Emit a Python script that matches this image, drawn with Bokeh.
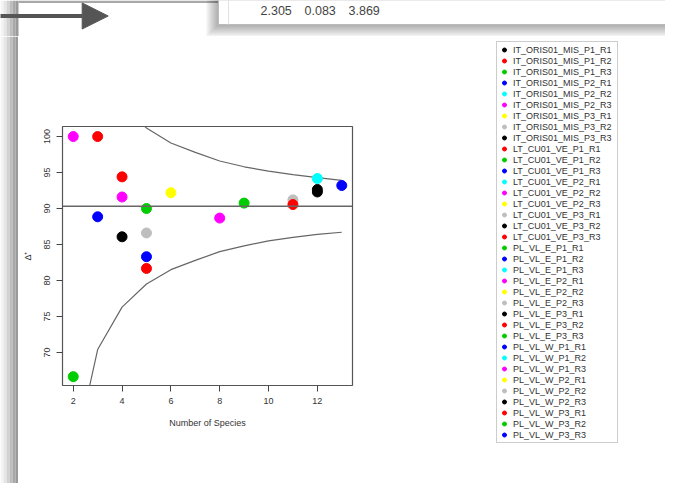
from bokeh.plotting import figure
from bokeh.layouts import column, row
from bokeh.models import (Legend, LegendItem, Label, Arrow, NormalHead,
                          FixedTicker, Span)
from bokeh.embed import file_html
from bokeh.resources import INLINE

# ---------------- data ----------------
samples = [
    "IT_ORIS01_MIS_P1_R1", "IT_ORIS01_MIS_P1_R2", "IT_ORIS01_MIS_P1_R3",
    "IT_ORIS01_MIS_P2_R1", "IT_ORIS01_MIS_P2_R2", "IT_ORIS01_MIS_P2_R3",
    "IT_ORIS01_MIS_P3_R1", "IT_ORIS01_MIS_P3_R2", "IT_ORIS01_MIS_P3_R3",
    "LT_CU01_VE_P1_R1", "LT_CU01_VE_P1_R2", "LT_CU01_VE_P1_R3",
    "LT_CU01_VE_P2_R1", "LT_CU01_VE_P2_R2", "LT_CU01_VE_P2_R3",
    "LT_CU01_VE_P3_R1", "LT_CU01_VE_P3_R2", "LT_CU01_VE_P3_R3",
    "PL_VL_E_P1_R1", "PL_VL_E_P1_R2", "PL_VL_E_P1_R3",
    "PL_VL_E_P2_R1", "PL_VL_E_P2_R2", "PL_VL_E_P2_R3",
    "PL_VL_E_P3_R1", "PL_VL_E_P3_R2", "PL_VL_E_P3_R3",
    "PL_VL_W_P1_R1", "PL_VL_W_P1_R2", "PL_VL_W_P1_R3",
    "PL_VL_W_P2_R1", "PL_VL_W_P2_R2", "PL_VL_W_P2_R3",
    "PL_VL_W_P3_R1", "PL_VL_W_P3_R2", "PL_VL_W_P3_R3",
]
palette = ["#000000", "#FF0000", "#00CD00", "#0000FF",
           "#00FFFF", "#FF00FF", "#FFFF00", "#BEBEBE"]

# observed points: sample index, number of species, Delta+
pt_sample = [5, 1, 9, 13, 3, 0, 2, 7, 11, 17, 6, 21, 18, 23, 25, 28, 24, 32, 27, 10]
pt_species = [2, 3, 4, 4, 3, 4, 5, 5, 5, 5, 6, 8, 9, 11, 11, 12, 12, 12, 13, 2]
pt_delta = [100.0, 100.0, 94.4, 91.6, 88.85, 86.07, 90.0, 86.6, 83.3, 81.67,
            92.2, 88.67, 90.75, 91.2, 90.55, 94.17, 92.64, 92.3, 93.2, 66.63]

# funnel (expected limits)
curve_species = [2, 3, 4, 5, 6, 7, 8, 9, 10, 11, 12, 13]
upper_limit = [125.6, 110.2, 104.3, 101.2, 99.1, 97.8, 96.6, 95.8, 95.2, 94.7, 94.3, 93.9]
lower_limit = [55.0, 70.4, 76.3, 79.5, 81.5, 82.8, 84.0, 84.8, 85.5, 86.0, 86.4, 86.7]
mean_delta = 90.3

x_ticks = [2, 4, 6, 8, 10, 12]
y_ticks = [70, 75, 80, 85, 90, 95, 100]
popup_values = ["2.305", "0.083", "3.869"]

FONT = "Liberation Sans"
NAN = float("nan")
W, H = 665, 483
HDR_H, STRIP_W = 36, 18
MAIN_W = 354
LEG_W = W - STRIP_W - MAIN_W
BODY_H = H - HDR_H
strip_cols = ["#f4f4f4", "#e6e6e6", "#d2d2d2", "#bdbdbd", "#a8a8a8", "#9a9a9a"]


def blank(width, height, xr, yr):
    f = figure(width=width, height=height, x_range=xr, y_range=yr,
               min_border=0, x_axis_location=None, y_axis_location=None,
               toolbar_location=None, output_backend="svg")
    f.outline_line_color = None
    f.grid.visible = False
    f.background_fill_color = "white"
    f.border_fill_color = "white"
    f.frame_align = False
    return f


# ---------------- header (screenshot window decorations) ----------------
hdr = blank(W, HDR_H, (0, W), (HDR_H, 0))
for k, c in enumerate(strip_cols):
    hdr.quad(left=[3 * k], right=[3 * k + 3], top=[0], bottom=[HDR_H],
             fill_color=c, line_color=None)
hdr.quad(left=[STRIP_W], right=[218], top=[0], bottom=[2.5],
         fill_color="#a8a8a8", line_color=None)
for k in range(6, 0, -1):
    hdr.quad(left=[218 - 2 * k], right=[W + 5], top=[-5], bottom=[24 + 2 * k],
             fill_color="black", fill_alpha=0.055, line_color=None)
hdr.quad(left=[218], right=[W + 5], top=[-5], bottom=[24],
         fill_color="white", line_color="#bbbbbb", line_width=1)
hdr.quad(left=[227.5], right=[228.5], top=[-5], bottom=[24],
         fill_color="#e2e2e2", line_color=None)
for k, v in enumerate(popup_values):
    hdr.add_layout(Label(x=260 + 44 * k, y=9.5, text=v, text_font=FONT,
                         text_font_size="12.5px", text_color="#444444",
                         text_baseline="middle", text_align="left"))
hdr.add_layout(Arrow(x_start=-5, y_start=15.5, x_end=107.7, y_end=15.5,
                     line_color="#555555", line_width=4,
                     end=NormalHead(size=26, fill_color="#555555",
                                    line_color="#555555", line_width=1)))

# ---------------- left strip ----------------
strip = blank(STRIP_W, BODY_H, (0, STRIP_W), (0, 1))
for k, c in enumerate(strip_cols):
    strip.quad(left=[3 * k], right=[3 * k + 3], top=[1], bottom=[0],
               fill_color=c, line_color=None)

# ---------------- main plot ----------------
p = figure(width=MAIN_W, height=BODY_H,
           x_range=(1.56, 13.44), y_range=(65.4, 101.4),
           output_backend="svg", toolbar_location=None,
           min_border_left=44, min_border_right=MAIN_W - 334,
           min_border_top=90, min_border_bottom=98,
           x_axis_label="Number of Species", y_axis_label="Δ⁺")
p.frame_align = False
p.background_fill_color = "white"
p.border_fill_color = "white"
p.outline_line_color = "#555555"
p.outline_line_width = 1.2
p.grid.visible = False

for ax in (p.xaxis[0], p.yaxis[0]):
    ax.axis_line_color = None
    ax.major_tick_line_color = "#444444"
    ax.major_tick_out = 6
    ax.major_tick_in = 0
    ax.minor_tick_line_color = None
    ax.major_label_text_font = FONT
    ax.major_label_text_font_size = "9px"
    ax.major_label_text_color = "#333333"
    ax.axis_label_text_font = FONT
    ax.axis_label_text_font_size = "9px"
    ax.axis_label_text_font_style = "normal"
    ax.axis_label_text_color = "#333333"

p.xaxis.ticker = FixedTicker(ticks=x_ticks)
p.yaxis.ticker = FixedTicker(ticks=y_ticks)
p.xaxis.major_label_standoff = 6
p.xaxis.axis_label_standoff = 11
p.yaxis.major_label_orientation = "vertical"
p.yaxis.major_label_standoff = 6
p.yaxis.axis_label_standoff = 9

p.add_layout(Span(location=mean_delta, dimension="width",
                  line_color="#666666", line_width=1.5))
p.line(curve_species, upper_limit, line_color="#666666", line_width=1.2)
p.line(curve_species, lower_limit, line_color="#666666", line_width=1.2)

for i, name in enumerate(samples):
    xs = [x for s, x in zip(pt_sample, pt_species) if s == i]
    ys = [y for s, y in zip(pt_sample, pt_delta) if s == i]
    if xs:
        col = palette[i % len(palette)]
        p.scatter(x=xs, y=ys, size=10, fill_color=col, line_color=col)

# ---------------- legend panel ----------------
leg = blank(LEG_W, BODY_H, (0, 1), (0, 1))
items = []
for i, name in enumerate(samples):
    col = palette[i % len(palette)]
    r = leg.scatter(x=[NAN], y=[NAN], size=10, fill_color=col, line_color=col)
    items.append(LegendItem(label=name, renderers=[r]))

legend = Legend(items=items, location=(124, 40))
legend.padding = 2
legend.margin = 0
legend.spacing = 0
legend.glyph_width = 10
legend.glyph_height = 11
legend.label_height = 11
legend.label_width = 102
legend.label_standoff = 4
legend.label_text_font = FONT
legend.label_text_font_size = "9px"
legend.label_text_color = "#333333"
legend.border_line_color = "#999999"
legend.border_line_width = 1
legend.background_fill_color = "white"
legend.background_fill_alpha = 1
leg.add_layout(legend, "center")

layout = column(hdr, row(strip, p, leg, spacing=0), spacing=0)
open("out.html", "w").write(file_html(layout, INLINE))
